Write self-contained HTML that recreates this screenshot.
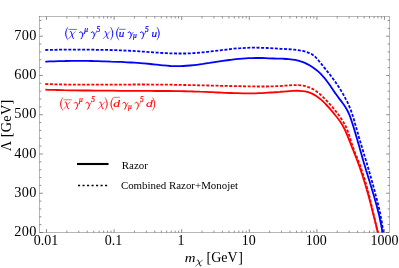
<!DOCTYPE html>
<html><head><meta charset="utf-8"><title>plot</title>
<style>html,body{margin:0;padding:0;background:#fff;}body{width:399px;height:268px;overflow:hidden;}svg{display:block;}text{font-family:"Liberation Serif",serif;}</style></head><body>
<svg width="399" height="268" viewBox="0 0 399 268">
<rect x="0" y="0" width="399" height="268" fill="#fff"/>
<defs><clipPath id="c"><rect x="39.5" y="16.5" width="350.0" height="216.0"/></clipPath></defs>
<path d="M46.50 232.5v-3.4M46.50 16.5v3.4M66.85 232.5v-1.9M66.85 16.5v1.9M78.75 232.5v-1.9M78.75 16.5v1.9M87.20 232.5v-1.9M87.20 16.5v1.9M93.75 232.5v-1.9M93.75 16.5v1.9M99.10 232.5v-1.9M99.10 16.5v1.9M103.63 232.5v-1.9M103.63 16.5v1.9M107.55 232.5v-1.9M107.55 16.5v1.9M111.01 232.5v-1.9M111.01 16.5v1.9M114.10 232.5v-3.4M114.10 16.5v3.4M134.45 232.5v-1.9M134.45 16.5v1.9M146.35 232.5v-1.9M146.35 16.5v1.9M154.80 232.5v-1.9M154.80 16.5v1.9M161.35 232.5v-1.9M161.35 16.5v1.9M166.70 232.5v-1.9M166.70 16.5v1.9M171.23 232.5v-1.9M171.23 16.5v1.9M175.15 232.5v-1.9M175.15 16.5v1.9M178.61 232.5v-1.9M178.61 16.5v1.9M181.70 232.5v-3.4M181.70 16.5v3.4M202.05 232.5v-1.9M202.05 16.5v1.9M213.95 232.5v-1.9M213.95 16.5v1.9M222.40 232.5v-1.9M222.40 16.5v1.9M228.95 232.5v-1.9M228.95 16.5v1.9M234.30 232.5v-1.9M234.30 16.5v1.9M238.83 232.5v-1.9M238.83 16.5v1.9M242.75 232.5v-1.9M242.75 16.5v1.9M246.21 232.5v-1.9M246.21 16.5v1.9M249.30 232.5v-3.4M249.30 16.5v3.4M269.65 232.5v-1.9M269.65 16.5v1.9M281.55 232.5v-1.9M281.55 16.5v1.9M290.00 232.5v-1.9M290.00 16.5v1.9M296.55 232.5v-1.9M296.55 16.5v1.9M301.90 232.5v-1.9M301.90 16.5v1.9M306.43 232.5v-1.9M306.43 16.5v1.9M310.35 232.5v-1.9M310.35 16.5v1.9M313.81 232.5v-1.9M313.81 16.5v1.9M316.90 232.5v-3.4M316.90 16.5v3.4M337.25 232.5v-1.9M337.25 16.5v1.9M349.15 232.5v-1.9M349.15 16.5v1.9M357.60 232.5v-1.9M357.60 16.5v1.9M364.15 232.5v-1.9M364.15 16.5v1.9M369.50 232.5v-1.9M369.50 16.5v1.9M374.03 232.5v-1.9M374.03 16.5v1.9M377.95 232.5v-1.9M377.95 16.5v1.9M381.41 232.5v-1.9M381.41 16.5v1.9M384.50 232.5v-3.4M384.50 16.5v3.4M39.5 232.50h3.4M389.5 232.50h-3.4M39.5 224.65h1.9M389.5 224.65h-1.9M39.5 216.80h1.9M389.5 216.80h-1.9M39.5 208.94h1.9M389.5 208.94h-1.9M39.5 201.09h1.9M389.5 201.09h-1.9M39.5 193.24h3.4M389.5 193.24h-3.4M39.5 185.39h1.9M389.5 185.39h-1.9M39.5 177.54h1.9M389.5 177.54h-1.9M39.5 169.69h1.9M389.5 169.69h-1.9M39.5 161.83h1.9M389.5 161.83h-1.9M39.5 153.98h3.4M389.5 153.98h-3.4M39.5 146.13h1.9M389.5 146.13h-1.9M39.5 138.28h1.9M389.5 138.28h-1.9M39.5 130.43h1.9M389.5 130.43h-1.9M39.5 122.57h1.9M389.5 122.57h-1.9M39.5 114.72h3.4M389.5 114.72h-3.4M39.5 106.87h1.9M389.5 106.87h-1.9M39.5 99.02h1.9M389.5 99.02h-1.9M39.5 91.17h1.9M389.5 91.17h-1.9M39.5 83.32h1.9M389.5 83.32h-1.9M39.5 75.46h3.4M389.5 75.46h-3.4M39.5 67.61h1.9M389.5 67.61h-1.9M39.5 59.76h1.9M389.5 59.76h-1.9M39.5 51.91h1.9M389.5 51.91h-1.9M39.5 44.06h1.9M389.5 44.06h-1.9M39.5 36.21h3.4M389.5 36.21h-3.4M39.5 28.35h1.9M389.5 28.35h-1.9M39.5 20.50h1.9M389.5 20.50h-1.9" stroke="#3c3c3c" stroke-width="0.58" fill="none"/>
<rect x="39.5" y="16.5" width="350.0" height="216.0" fill="none" stroke="#4d4d4d" stroke-width="0.4"/>
<g clip-path="url(#c)" fill="none" stroke-width="1.8" stroke-linejoin="round">
<path d="M45.3 89.7C46.3 89.8 49.4 89.8 51.5 89.9C53.5 89.9 55.6 90.0 57.7 90.0C59.7 90.1 61.8 90.1 63.9 90.2C65.9 90.2 68.0 90.2 70.0 90.3C72.1 90.3 74.2 90.3 76.2 90.4C78.3 90.4 80.3 90.4 82.4 90.5C84.5 90.5 86.5 90.5 88.6 90.5C90.7 90.6 92.7 90.6 94.8 90.6C96.8 90.6 98.9 90.6 101.0 90.7C103.0 90.7 105.1 90.7 107.2 90.7C109.2 90.7 111.3 90.7 113.4 90.7C115.4 90.8 117.5 90.8 119.5 90.8C121.6 90.8 123.7 90.8 125.7 90.8C127.8 90.8 129.9 90.8 131.9 90.8C134.0 90.9 136.0 90.9 138.1 90.9C140.2 90.9 142.2 90.9 144.3 90.9C146.3 90.9 148.4 90.9 150.5 90.9C152.5 90.9 154.6 90.9 156.7 91.0C158.7 91.0 160.8 91.0 162.8 91.0C164.9 91.0 167.0 91.0 169.0 91.0C171.1 91.1 173.1 91.1 175.2 91.1C177.3 91.1 179.3 91.2 181.4 91.2C183.4 91.2 185.5 91.3 187.6 91.3C189.6 91.4 191.7 91.4 193.7 91.5C195.8 91.5 197.9 91.6 199.9 91.7C202.0 91.7 204.1 91.8 206.1 91.9C208.2 92.0 210.2 92.1 212.3 92.2C214.4 92.3 216.4 92.4 218.5 92.5C220.6 92.6 222.6 92.7 224.7 92.8C226.8 92.8 228.8 92.9 230.9 93.0C232.9 93.1 235.0 93.2 237.1 93.2C239.1 93.3 241.2 93.3 243.2 93.3C245.3 93.4 247.4 93.4 249.4 93.4C251.5 93.4 253.5 93.3 255.6 93.3C257.6 93.2 259.7 93.2 261.7 93.1C263.8 93.0 265.8 92.9 267.9 92.7C269.9 92.6 272.0 92.4 274.0 92.3C276.1 92.1 278.1 91.9 280.2 91.8C282.3 91.6 284.3 91.4 286.4 91.3C288.5 91.2 290.6 91.0 292.7 90.9C294.8 90.8 297.0 90.7 299.0 90.8C301.1 90.9 303.2 91.0 305.1 91.4C307.1 91.8 309.0 92.3 310.9 93.1C312.7 93.8 314.5 94.8 316.2 95.9C317.9 97.0 319.5 98.3 321.1 99.6C322.7 101.0 324.2 102.5 325.6 104.0C327.1 105.4 328.4 107.0 329.8 108.6C331.2 110.2 332.5 111.8 333.8 113.4C335.1 115.0 336.5 116.6 337.7 118.2C339.0 119.8 340.2 121.5 341.3 123.2C342.4 124.9 343.4 126.7 344.3 128.5C345.2 130.3 346.0 132.2 346.8 134.1C347.6 136.0 348.3 137.9 349.1 139.9C349.9 141.8 350.6 143.7 351.4 145.6C352.1 147.5 352.9 149.4 353.7 151.4C354.4 153.3 355.2 155.2 355.9 157.1C356.7 159.0 357.4 161.0 358.1 162.9C358.8 164.8 359.5 166.8 360.2 168.7C360.9 170.7 361.5 172.6 362.2 174.6C362.8 176.5 363.4 178.5 364.0 180.5C364.7 182.4 365.3 184.4 365.8 186.4C366.4 188.4 367.0 190.3 367.5 192.3C368.1 194.3 368.7 196.3 369.2 198.3C369.7 200.3 370.3 202.3 370.8 204.3C371.3 206.3 371.8 208.3 372.3 210.3C372.8 212.3 373.3 214.3 373.8 216.3C374.3 218.3 374.8 220.3 375.3 222.3C375.8 224.3 376.3 226.3 376.8 228.3C377.2 230.3 378.0 233.3 378.2 234.3" stroke="#ff0000"/>
<path d="M45.3 84.0C46.3 84.1 49.5 84.2 51.6 84.2C53.6 84.3 55.7 84.4 57.8 84.4C59.9 84.5 62.0 84.5 64.1 84.5C66.2 84.6 68.2 84.6 70.3 84.6C72.4 84.7 74.5 84.7 76.6 84.7C78.7 84.7 80.8 84.7 82.8 84.7C84.9 84.7 87.0 84.7 89.1 84.7C91.2 84.7 93.3 84.7 95.3 84.7C97.4 84.7 99.5 84.7 101.6 84.7C103.7 84.7 105.8 84.7 107.8 84.7C109.9 84.7 112.0 84.7 114.1 84.6C116.2 84.6 118.3 84.6 120.3 84.6C122.4 84.6 124.5 84.6 126.6 84.6C128.7 84.6 130.8 84.6 132.8 84.5C134.9 84.5 137.0 84.5 139.1 84.5C141.2 84.5 143.3 84.5 145.3 84.5C147.4 84.5 149.5 84.5 151.6 84.6C153.7 84.6 155.8 84.6 157.9 84.6C159.9 84.6 162.0 84.6 164.1 84.7C166.2 84.7 168.3 84.7 170.4 84.7C172.5 84.8 174.6 84.8 176.6 84.8C178.7 84.9 180.8 84.9 182.9 85.0C185.0 85.0 187.1 85.0 189.2 85.1C191.2 85.1 193.3 85.2 195.4 85.2C197.5 85.3 199.6 85.3 201.7 85.3C203.8 85.4 205.8 85.4 207.9 85.5C210.0 85.5 212.1 85.6 214.2 85.6C216.3 85.7 218.3 85.7 220.4 85.8C222.5 85.8 224.6 85.9 226.7 85.9C228.8 86.0 230.8 86.0 232.9 86.1C235.0 86.1 237.1 86.1 239.1 86.2C241.2 86.2 243.3 86.3 245.4 86.3C247.5 86.3 249.5 86.4 251.6 86.4C253.7 86.4 255.7 86.5 257.8 86.5C259.9 86.5 262.0 86.5 264.1 86.5C266.1 86.5 268.2 86.4 270.3 86.4C272.4 86.3 274.5 86.3 276.6 86.2C278.7 86.1 280.8 86.0 282.9 85.8C285.0 85.7 287.1 85.5 289.2 85.4C291.3 85.2 293.5 85.1 295.6 85.1C297.6 85.1 299.7 85.1 301.7 85.4C303.8 85.7 305.8 86.1 307.7 86.8C309.6 87.4 311.5 88.3 313.3 89.3C315.1 90.3 316.8 91.6 318.5 92.9C320.1 94.2 321.6 95.7 323.1 97.1C324.6 98.6 326.1 100.1 327.5 101.6C328.9 103.2 330.3 104.7 331.7 106.3C333.1 107.9 334.4 109.5 335.7 111.1C337.0 112.7 338.3 114.4 339.5 116.1C340.7 117.8 341.8 119.5 342.9 121.3C344.0 123.0 345.0 124.8 345.9 126.7C346.8 128.6 347.5 130.5 348.2 132.5C348.9 134.4 349.5 136.4 350.2 138.4C350.8 140.4 351.4 142.4 352.0 144.4C352.7 146.4 353.4 148.4 354.1 150.4C354.8 152.3 355.6 154.2 356.4 156.2C357.2 158.1 358.0 160.0 358.7 161.9C359.5 163.9 360.2 165.8 360.9 167.8C361.6 169.8 362.3 171.7 362.9 173.7C363.6 175.7 364.2 177.7 364.8 179.7C365.4 181.7 366.0 183.7 366.5 185.7C367.1 187.7 367.6 189.7 368.1 191.7C368.7 193.7 369.2 195.7 369.7 197.8C370.2 199.8 370.7 201.8 371.2 203.9C371.7 205.9 372.1 207.9 372.6 210.0C373.1 212.0 373.5 214.0 374.0 216.1C374.5 218.1 375.0 220.1 375.4 222.1C375.9 224.2 376.4 226.2 376.9 228.2C377.4 230.2 378.1 233.3 378.4 234.3" stroke="#ff0000" stroke-dasharray="3 1.6"/>
<path d="M45.3 61.6C46.4 61.6 49.7 61.4 51.9 61.3C54.1 61.3 56.3 61.2 58.5 61.1C60.7 61.1 62.9 61.0 65.1 61.0C67.3 60.9 69.4 60.9 71.6 60.9C73.8 60.9 76.0 60.9 78.2 60.9C80.4 60.9 82.6 60.9 84.8 60.9C87.0 60.9 89.2 61.0 91.4 61.0C93.6 61.0 95.8 61.1 98.0 61.1C100.2 61.2 102.4 61.3 104.6 61.3C106.8 61.4 109.0 61.5 111.2 61.6C113.4 61.6 115.6 61.7 117.7 61.8C119.9 61.9 122.1 62.0 124.3 62.1C126.5 62.3 128.7 62.4 130.9 62.5C133.1 62.6 135.3 62.8 137.5 62.9C139.7 63.1 141.9 63.2 144.0 63.4C146.2 63.6 148.4 63.8 150.6 64.0C152.8 64.2 155.0 64.5 157.2 64.7C159.4 64.9 161.5 65.2 163.7 65.4C165.9 65.6 168.1 65.8 170.3 66.0C172.5 66.1 174.7 66.2 176.9 66.2C179.1 66.2 181.3 66.2 183.4 66.0C185.6 65.9 187.8 65.7 190.0 65.5C192.2 65.3 194.4 65.1 196.6 64.8C198.8 64.5 200.9 64.2 203.1 63.9C205.3 63.5 207.4 63.2 209.6 62.9C211.8 62.5 213.9 62.2 216.1 61.8C218.3 61.5 220.4 61.2 222.6 60.9C224.8 60.6 227.0 60.3 229.2 60.0C231.4 59.7 233.6 59.5 235.7 59.2C237.9 59.0 240.1 58.8 242.3 58.6C244.5 58.5 246.7 58.3 248.9 58.2C251.1 58.1 253.3 58.1 255.5 58.0C257.7 58.0 259.8 58.0 262.0 58.0C264.2 58.1 266.3 58.2 268.5 58.3C270.7 58.3 272.9 58.4 275.1 58.5C277.3 58.5 279.6 58.6 281.8 58.7C284.0 58.8 286.3 58.8 288.5 59.1C290.7 59.3 293.0 59.5 295.1 59.9C297.3 60.3 299.4 60.9 301.5 61.6C303.5 62.2 305.5 63.1 307.4 64.1C309.3 65.0 311.2 66.2 313.0 67.4C314.8 68.6 316.5 70.0 318.1 71.4C319.8 72.9 321.3 74.4 322.8 76.1C324.3 77.7 325.7 79.4 327.0 81.2C328.3 82.9 329.6 84.8 330.8 86.6C332.1 88.4 333.3 90.3 334.5 92.1C335.8 93.9 337.1 95.7 338.4 97.5C339.7 99.3 341.1 101.0 342.4 102.8C343.7 104.5 345.0 106.3 346.1 108.2C347.2 110.0 348.2 112.0 349.0 113.9C349.9 115.9 350.6 118.0 351.3 120.1C352.0 122.2 352.6 124.3 353.3 126.3C353.9 128.4 354.6 130.5 355.2 132.6C355.8 134.7 356.4 136.9 357.1 139.0C357.7 141.1 358.3 143.2 358.9 145.3C359.5 147.4 360.1 149.5 360.7 151.7C361.3 153.8 361.9 155.9 362.5 158.0C363.1 160.1 363.7 162.2 364.3 164.3C365.0 166.4 365.6 168.5 366.2 170.6C366.9 172.7 367.5 174.8 368.2 176.9C368.8 179.0 369.5 181.1 370.1 183.2C370.8 185.3 371.4 187.4 372.0 189.5C372.6 191.6 373.3 193.7 373.9 195.8C374.5 197.9 375.1 200.1 375.7 202.2C376.3 204.3 376.8 206.4 377.4 208.5C377.9 210.6 378.5 212.8 379.0 214.9C379.5 217.0 379.9 219.2 380.4 221.3C380.8 223.5 381.3 225.6 381.7 227.8C382.1 230.0 382.6 233.3 382.8 234.3" stroke="#0000ff"/>
<path d="M45.3 50.0C46.4 50.0 49.8 49.9 52.0 49.9C54.3 49.8 56.5 49.8 58.8 49.7C61.0 49.7 63.3 49.7 65.5 49.7C67.8 49.7 70.0 49.6 72.3 49.6C74.5 49.6 76.8 49.6 79.0 49.6C81.3 49.6 83.5 49.7 85.7 49.7C88.0 49.7 90.2 49.7 92.5 49.7C94.7 49.8 97.0 49.8 99.2 49.8C101.5 49.8 103.7 49.9 106.0 49.9C108.2 50.0 110.5 50.0 112.7 50.1C114.9 50.1 117.2 50.2 119.4 50.3C121.7 50.4 123.9 50.5 126.2 50.6C128.4 50.7 130.7 50.8 132.9 50.9C135.1 51.1 137.4 51.2 139.6 51.4C141.9 51.5 144.1 51.7 146.4 51.8C148.6 52.0 150.8 52.2 153.1 52.3C155.3 52.5 157.6 52.6 159.8 52.8C162.0 52.9 164.3 53.1 166.5 53.2C168.8 53.3 171.0 53.4 173.2 53.4C175.5 53.5 177.7 53.5 180.0 53.5C182.2 53.5 184.4 53.5 186.7 53.5C188.9 53.4 191.2 53.3 193.4 53.1C195.6 53.0 197.9 52.8 200.1 52.6C202.4 52.4 204.6 52.2 206.8 51.9C209.1 51.7 211.3 51.4 213.6 51.1C215.8 50.8 218.0 50.6 220.3 50.3C222.5 50.0 224.8 49.7 227.0 49.5C229.2 49.2 231.5 49.0 233.7 48.7C236.0 48.5 238.2 48.3 240.4 48.2C242.7 48.0 244.9 47.9 247.1 47.8C249.4 47.7 251.6 47.7 253.9 47.7C256.1 47.7 258.3 47.7 260.6 47.8C262.8 47.8 265.1 47.9 267.3 48.0C269.5 48.1 271.8 48.3 274.0 48.4C276.3 48.5 278.5 48.7 280.8 48.8C283.0 48.9 285.3 49.0 287.6 49.2C289.8 49.3 292.1 49.5 294.3 49.7C296.5 50.0 298.8 50.2 301.0 50.7C303.1 51.1 305.4 51.5 307.4 52.3C309.5 53.1 311.5 53.9 313.3 55.2C315.1 56.5 316.5 58.3 318.1 60.0C319.6 61.7 321.0 63.5 322.4 65.2C323.8 67.0 325.2 68.7 326.6 70.5C328.0 72.2 329.4 74.0 330.8 75.7C332.1 77.5 333.5 79.3 334.8 81.2C336.1 83.0 337.3 84.9 338.6 86.8C339.8 88.6 341.0 90.5 342.2 92.5C343.3 94.4 344.4 96.4 345.4 98.4C346.5 100.3 347.5 102.4 348.4 104.4C349.3 106.4 350.2 108.5 351.0 110.6C351.8 112.7 352.5 114.8 353.1 117.0C353.8 119.1 354.4 121.3 355.0 123.4C355.7 125.6 356.2 127.8 356.9 129.9C357.5 132.1 358.1 134.3 358.7 136.4C359.3 138.6 360.0 140.7 360.6 142.9C361.3 145.0 361.9 147.2 362.6 149.3C363.2 151.5 363.9 153.6 364.5 155.8C365.2 157.9 365.8 160.1 366.5 162.2C367.1 164.4 367.7 166.5 368.4 168.7C369.0 170.9 369.6 173.0 370.3 175.2C370.9 177.3 371.5 179.5 372.1 181.7C372.7 183.8 373.3 186.0 373.9 188.2C374.5 190.3 375.1 192.5 375.6 194.7C376.2 196.8 376.8 199.0 377.3 201.2C377.8 203.4 378.4 205.5 378.9 207.7C379.4 209.9 379.9 212.1 380.3 214.3C380.8 216.5 381.2 218.7 381.6 220.9C382.0 223.1 382.3 225.4 382.6 227.6C382.9 229.8 383.2 233.2 383.3 234.3" stroke="#0000ff" stroke-dasharray="3 1.6"/>
</g>
<g style="will-change:transform">
<path d="M77 164H108.5" stroke="#000" stroke-width="2.1"/>
<path d="M78 185.5H108" stroke="#000" stroke-width="1.35" stroke-dasharray="2.1 2.41"/>
<text x="121.8" y="168.6" font-size="10.95" fill="#000">Razor</text>
<text x="120.9" y="188.6" font-size="10.9" fill="#000">Combined Razor+Monojet</text>
<text x="36.6" y="236.2" font-size="14.3" letter-spacing="0.3" text-anchor="end" fill="#000">200</text>
<text x="36.6" y="196.9" font-size="14.3" letter-spacing="0.3" text-anchor="end" fill="#000">300</text>
<text x="36.6" y="157.7" font-size="14.3" letter-spacing="0.3" text-anchor="end" fill="#000">400</text>
<text x="36.6" y="118.4" font-size="14.3" letter-spacing="0.3" text-anchor="end" fill="#000">500</text>
<text x="36.6" y="79.2" font-size="14.3" letter-spacing="0.3" text-anchor="end" fill="#000">600</text>
<text x="36.6" y="39.9" font-size="14.3" letter-spacing="0.3" text-anchor="end" fill="#000">700</text>
<text x="45.9" y="245.2" font-size="14" text-anchor="middle" fill="#000">0.01</text>
<text x="113.5" y="245.2" font-size="14" text-anchor="middle" fill="#000">0.1</text>
<text x="181.1" y="245.2" font-size="14" text-anchor="middle" fill="#000">1</text>
<text x="248.7" y="245.2" font-size="14" text-anchor="middle" fill="#000">10</text>
<text x="316.3" y="245.2" font-size="14" text-anchor="middle" fill="#000">100</text>
<text x="384.6" y="245.2" font-size="14" text-anchor="middle" fill="#000">1000</text>
<text transform="translate(10.5 125.45) rotate(-90)" font-size="14.3" letter-spacing="0.25" text-anchor="middle" fill="#000">Λ [GeV]</text>
<g fill="#0000ff" color="#0000ff" stroke="none" font-style="italic"><path d="M68.10 26.8C64.40 31.30 64.40 35.80 68.10 40.3C65.45 35.80 65.45 31.30 68.10 26.8Z" stroke-width="0.2" stroke-linejoin="round" stroke="#0000ff"/><path d="M70.10 32.10C70.30 31.30 71.00 31.10 71.30 32.10L72.80 37.70C73.10 38.70 73.70 38.80 74.10 37.90" fill="none" stroke="#0000ff" stroke-width="0.95"/><path d="M75.40 31.40L68.50 38.90" fill="none" stroke="#0000ff" stroke-width="0.55"/><path d="M68.50 29.40H76.90" stroke="#0000ff" stroke-width="0.6"/><path d="M79.40 32.69C79.94 31.61 81.45 31.50 81.99 32.58C82.42 33.55 82.64 34.74 82.53 35.82C82.32 36.90 81.56 38.20 81.02 38.84" fill="none" stroke="#0000ff" stroke-width="1.0" stroke-linecap="round"/><path d="M82.53 35.82C83.07 34.52 83.94 33.01 84.80 31.93" fill="none" stroke="#0000ff" stroke-width="0.6"/><text x="84.21" y="31.80" font-size="7.5" stroke="currentColor" stroke-width="0.22">μ</text><path d="M91.10 32.69C91.64 31.61 93.15 31.50 93.69 32.58C94.12 33.55 94.34 34.74 94.23 35.82C94.02 36.90 93.26 38.20 92.72 38.84" fill="none" stroke="#0000ff" stroke-width="1.0" stroke-linecap="round"/><path d="M94.23 35.82C94.77 34.52 95.64 33.01 96.50 31.93" fill="none" stroke="#0000ff" stroke-width="0.6"/><text x="96.38" y="32.00" font-size="7.4" stroke="currentColor" stroke-width="0.22">5</text><path d="M104.70 32.10C104.90 31.30 105.60 31.10 105.90 32.10L107.40 37.70C107.70 38.70 108.30 38.80 108.70 37.90" fill="none" stroke="#0000ff" stroke-width="0.95"/><path d="M110.00 31.40L103.10 38.90" fill="none" stroke="#0000ff" stroke-width="0.55"/><path d="M110.40 26.8C114.10 31.30 114.10 35.80 110.40 40.3C113.05 35.80 113.05 31.30 110.40 26.8Z" stroke-width="0.2" stroke-linejoin="round" stroke="#0000ff"/><path d="M119.00 26.8C115.30 31.30 115.30 35.80 119.00 40.3C116.35 35.80 116.35 31.30 119.00 26.8Z" stroke-width="0.2" stroke-linejoin="round" stroke="#0000ff"/><text transform="translate(118.84 36.80) scale(1.1 1)" font-size="10.2" stroke="currentColor" stroke-width="0.15">u</text><path d="M119.10 29.30H125.70" stroke="#0000ff" stroke-width="0.6"/><path d="M128.00 32.69C128.54 31.61 130.05 31.50 130.59 32.58C131.02 33.55 131.24 34.74 131.13 35.82C130.92 36.90 130.16 38.20 129.62 38.84" fill="none" stroke="#0000ff" stroke-width="1.0" stroke-linecap="round"/><path d="M131.13 35.82C131.67 34.52 132.54 33.01 133.40 31.93" fill="none" stroke="#0000ff" stroke-width="0.6"/><text x="133.01" y="38.30" font-size="7.5" stroke="currentColor" stroke-width="0.22">μ</text><path d="M140.30 32.69C140.84 31.61 142.35 31.50 142.89 32.58C143.32 33.55 143.54 34.74 143.43 35.82C143.22 36.90 142.46 38.20 141.92 38.84" fill="none" stroke="#0000ff" stroke-width="1.0" stroke-linecap="round"/><path d="M143.43 35.82C143.97 34.52 144.84 33.01 145.70 31.93" fill="none" stroke="#0000ff" stroke-width="0.6"/><text x="145.08" y="32.00" font-size="7.4" stroke="currentColor" stroke-width="0.22">5</text><text transform="translate(151.44 36.80) scale(1.1 1)" font-size="10.2" stroke="currentColor" stroke-width="0.15">u</text><path d="M156.80 26.8C160.50 31.30 160.50 35.80 156.80 40.3C159.45 35.80 159.45 31.30 156.80 26.8Z" stroke-width="0.2" stroke-linejoin="round" stroke="#0000ff"/></g>
<g fill="#ff0000" color="#ff0000" stroke="none" font-style="italic"><path d="M63.00 97.2C59.30 101.70 59.30 106.20 63.00 110.7C60.35 106.20 60.35 101.70 63.00 97.2Z" stroke-width="0.2" stroke-linejoin="round" stroke="#ff0000"/><path d="M65.00 102.50C65.20 101.70 65.90 101.50 66.20 102.50L67.70 108.10C68.00 109.10 68.60 109.20 69.00 108.30" fill="none" stroke="#ff0000" stroke-width="0.95"/><path d="M70.30 101.80L63.40 109.30" fill="none" stroke="#ff0000" stroke-width="0.55"/><path d="M63.40 99.80H71.80" stroke="#ff0000" stroke-width="0.6"/><path d="M74.30 103.09C74.84 102.01 76.35 101.90 76.89 102.98C77.32 103.95 77.54 105.14 77.43 106.22C77.22 107.30 76.46 108.60 75.92 109.24" fill="none" stroke="#ff0000" stroke-width="1.0" stroke-linecap="round"/><path d="M77.43 106.22C77.97 104.92 78.84 103.41 79.70 102.33" fill="none" stroke="#ff0000" stroke-width="0.6"/><text x="79.11" y="102.20" font-size="7.5" stroke="currentColor" stroke-width="0.22">μ</text><path d="M86.00 103.09C86.54 102.01 88.05 101.90 88.59 102.98C89.02 103.95 89.24 105.14 89.13 106.22C88.92 107.30 88.16 108.60 87.62 109.24" fill="none" stroke="#ff0000" stroke-width="1.0" stroke-linecap="round"/><path d="M89.13 106.22C89.67 104.92 90.54 103.41 91.40 102.33" fill="none" stroke="#ff0000" stroke-width="0.6"/><text x="91.28" y="102.40" font-size="7.4" stroke="currentColor" stroke-width="0.22">5</text><path d="M99.60 102.50C99.80 101.70 100.50 101.50 100.80 102.50L102.30 108.10C102.60 109.10 103.20 109.20 103.60 108.30" fill="none" stroke="#ff0000" stroke-width="0.95"/><path d="M104.90 101.80L98.00 109.30" fill="none" stroke="#ff0000" stroke-width="0.55"/><path d="M104.80 97.2C108.50 101.70 108.50 106.20 104.80 110.7C107.45 106.20 107.45 101.70 104.80 97.2Z" stroke-width="0.2" stroke-linejoin="round" stroke="#ff0000"/><path d="M113.40 97.2C109.70 101.70 109.70 106.20 113.40 110.7C110.75 106.20 110.75 101.70 113.40 97.2Z" stroke-width="0.2" stroke-linejoin="round" stroke="#ff0000"/><text transform="translate(113.29 107.20) scale(1.2 1)" font-size="11.4" stroke="currentColor" stroke-width="0.15">d</text><path d="M113.70 97.30H120.00" stroke="#ff0000" stroke-width="0.6"/><path d="M122.90 103.09C123.44 102.01 124.95 101.90 125.49 102.98C125.92 103.95 126.14 105.14 126.03 106.22C125.82 107.30 125.06 108.60 124.52 109.24" fill="none" stroke="#ff0000" stroke-width="1.0" stroke-linecap="round"/><path d="M126.03 106.22C126.57 104.92 127.44 103.41 128.30 102.33" fill="none" stroke="#ff0000" stroke-width="0.6"/><text x="127.91" y="108.70" font-size="7.5" stroke="currentColor" stroke-width="0.22">μ</text><path d="M135.20 103.09C135.74 102.01 137.25 101.90 137.79 102.98C138.22 103.95 138.44 105.14 138.33 106.22C138.12 107.30 137.36 108.60 136.82 109.24" fill="none" stroke="#ff0000" stroke-width="1.0" stroke-linecap="round"/><path d="M138.33 106.22C138.87 104.92 139.74 103.41 140.60 102.33" fill="none" stroke="#ff0000" stroke-width="0.6"/><text x="139.98" y="102.40" font-size="7.4" stroke="currentColor" stroke-width="0.22">5</text><text transform="translate(145.89 107.20) scale(1.2 1)" font-size="11.4" stroke="currentColor" stroke-width="0.15">d</text><path d="M152.40 97.2C156.10 101.70 156.10 106.20 152.40 110.7C155.05 106.20 155.05 101.70 152.40 97.2Z" stroke-width="0.2" stroke-linejoin="round" stroke="#ff0000"/></g>
<text transform="translate(184.76 261.7) scale(1.17 1)" font-size="12.7" font-style="italic" fill="#000">m</text>
<path d="M197.19 260.46C197.40 259.77 198.13 259.60 198.44 260.46L200.02 265.27C200.34 266.13 200.97 266.22 201.39 265.45" fill="none" stroke="#000" stroke-width="0.95"/><path d="M202.75 259.86L195.50 266.31" fill="none" stroke="#000" stroke-width="0.55"/>
<text x="206.5" y="261.7" font-size="14" fill="#000">[GeV<tspan dx="0.7">]</tspan></text>
</g>
</svg></body></html>
